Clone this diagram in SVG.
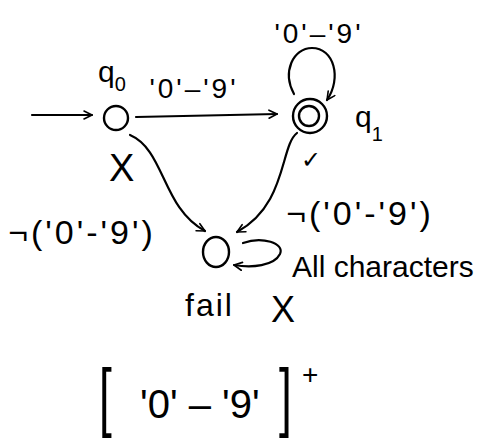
<svg xmlns="http://www.w3.org/2000/svg" width="483" height="443" viewBox="0 0 483 443">
<style>
  .ln { fill: none; stroke: #000; stroke-width: 2.2; stroke-linecap: round; stroke-linejoin: round; }
  .st { fill: none; stroke: #000; stroke-width: 2.4; }
  text { font-family: "Liberation Sans", Arial, sans-serif; fill: #000; }
  .lbl { font-size: 28px; letter-spacing: 3px; }
  .neg { font-size: 34px; letter-spacing: 3px; }
  .br { font-size: 46px; }
</style>
<defs>
  <marker id="ah" viewBox="0 0 10 10" refX="9" refY="5" markerWidth="10" markerHeight="10" markerUnits="userSpaceOnUse" orient="auto">
    <path d="M1,1 L9,5 L1,9" fill="none" stroke="#000" stroke-width="1.6" stroke-linecap="round" stroke-linejoin="round"/>
  </marker>
</defs>
<rect width="483" height="443" fill="#fff"/>

<g id="connectors">
  <path class="ln" d="M32,115 L92,115" marker-end="url(#ah)"/>
  <path class="ln" d="M136,117 L277,114" marker-end="url(#ah)"/>
  <path class="ln" d="M294,94 C282,72 293,48 312,48 C334,48 342,78 327,100" marker-end="url(#ah)"/>
  <path class="ln" d="M130,135 C165,150 162,208 205,231" marker-end="url(#ah)"/>
  <path class="ln" d="M297,133 C280,146 287,205 237,232" marker-end="url(#ah)"/>
  <path class="ln" d="M243,243 C262,236 285,243 280,254 C274,266 252,268 234,265" marker-end="url(#ah)"/>
  <text class="lbl" x="194" y="98" text-anchor="middle">'0'–'9'</text>
  <text class="lbl" x="319" y="43" text-anchor="middle">'0'–'9'</text>
  <text class="neg" x="82" y="244" text-anchor="middle">¬('0'-'9')</text>
  <text class="neg" x="360" y="225" text-anchor="middle">¬('0'-'9')</text>
  <text x="292" y="277" font-size="30">All characters</text>
</g>

<g id="q0">
  <circle class="st" cx="116" cy="118" r="12"/>
  <text x="98" y="82" font-size="30">q<tspan font-size="20" dy="9">0</tspan></text>
  <text x="109" y="181" font-size="38">X</text>
</g>

<g id="q1">
  <circle class="st" cx="310" cy="116" r="17"/>
  <circle class="st" cx="309" cy="116" r="10"/>
  <text x="355" y="127" font-size="30">q<tspan font-size="20" dy="14">1</tspan></text>
  <text x="301" y="168" font-size="24" font-family="DejaVu Sans, sans-serif">✓</text>
</g>

<g id="fail">
  <ellipse class="st" cx="216" cy="252" rx="13" ry="15"/>
  <text x="185" y="316" font-size="32" letter-spacing="2">fail</text>
  <text x="271" y="322" font-size="36">X</text>
</g>

<g id="regex">
  <text class="br" transform="translate(99,422) scale(1,1.65)">[</text>
  <text x="140" y="418" font-size="40">'0' – '9'</text>
  <text class="br" transform="translate(279,422) scale(1,1.65)">]</text>
  <text x="302" y="384" font-size="28">+</text>
</g>
</svg>
